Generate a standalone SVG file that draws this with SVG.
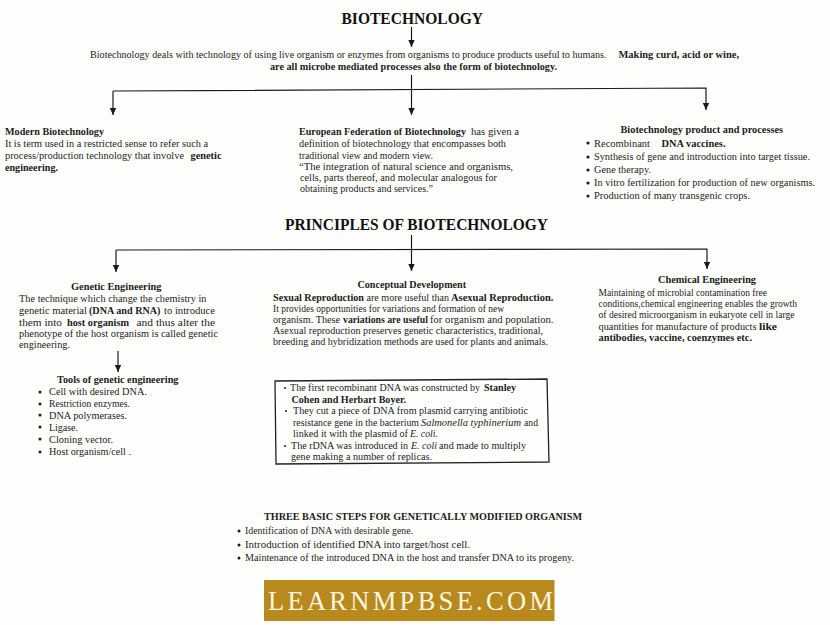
<svg xmlns="http://www.w3.org/2000/svg" width="830" height="625" viewBox="0 0 830 625">
<style>
text{font-family:"Liberation Serif","Times New Roman",serif;font-size:10.5px;fill:#1c1c1c}
.b{font-weight:bold}
.i{font-style:italic}
.h{font-weight:bold;font-size:16px;fill:#111}
.c{fill:none;stroke:#1a1a1a;stroke-width:1.2}
.d{fill:#1c1c1c}
.box{fill:none;stroke:#222;stroke-width:1.3}
.logo{font-size:26.5px;fill:#fbf4e2}
.s{font-size:10px}
</style>
<defs>
<marker id="a" markerUnits="userSpaceOnUse" markerWidth="8" markerHeight="8" refX="7" refY="4" orient="auto"><path d="M0 .8L7 4L0 7.2z" fill="#1a1a1a"/></marker>
</defs>
<rect width="830" height="625" fill="#fefefd"/>
<g id="connectors">
<path class="c" d="M411.5 27V47" marker-end="url(#a)"/>
<path class="c" d="M411.5 75V115" marker-end="url(#a)"/>
<path class="c" d="M113 91V115" marker-end="url(#a)"/>
<path class="c" d="M113 91L706 88V110" marker-end="url(#a)"/>
<path class="c" d="M411.5 235V271" marker-end="url(#a)"/>
<path class="c" d="M116 250V272" marker-end="url(#a)"/>
<path class="c" d="M116 250L707 249V269" marker-end="url(#a)"/>
<path class="c" d="M118 351V372" marker-end="url(#a)"/>
</g>
<g id="title"><text class="h" x="341.5" y="23.5" textLength="141.5" lengthAdjust="spacingAndGlyphs">BIOTECHNOLOGY</text></g>
<g id="intro">
<text x="90" y="58" textLength="516.5" lengthAdjust="spacingAndGlyphs">Biotechnology deals with technology of using live organism or enzymes from organisms to produce products useful to humans.</text>
<text class="b" x="618.5" y="58" textLength="120.5" lengthAdjust="spacingAndGlyphs">Making curd, acid or wine,</text>
<text class="b" x="270" y="70" textLength="287" lengthAdjust="spacingAndGlyphs">are all microbe mediated processes also the form of biotechnology.</text>
</g>
<g id="modern">
<text class="b" x="5" y="135" textLength="99" lengthAdjust="spacingAndGlyphs">Modern Biotechnology</text>
<text x="5" y="147" textLength="203" lengthAdjust="spacingAndGlyphs">It is term used in a restricted sense to refer such a</text>
<text x="5" y="159" textLength="179" lengthAdjust="spacingAndGlyphs">process/production technology that involve</text>
<text class="b" x="190.5" y="159" textLength="31" lengthAdjust="spacingAndGlyphs">genetic</text>
<text class="b" x="5" y="171" textLength="53" lengthAdjust="spacingAndGlyphs">engineering.</text>
</g>
<g id="european">
<text class="b" x="299" y="135" textLength="167" lengthAdjust="spacingAndGlyphs">European Federation of Biotechnology</text>
<text x="471" y="135" textLength="48" lengthAdjust="spacingAndGlyphs">has given a</text>
<text x="299" y="147" textLength="207" lengthAdjust="spacingAndGlyphs">definition of biotechnology that encompasses both</text>
<text x="299" y="158.5" textLength="134" lengthAdjust="spacingAndGlyphs">traditional view and modern view.</text>
<text x="299" y="170" textLength="214" lengthAdjust="spacingAndGlyphs">“The integration of natural science and organisms,</text>
<text x="300" y="181" textLength="197" lengthAdjust="spacingAndGlyphs">cells, parts thereof, and molecular analogous for</text>
<text x="300" y="192" textLength="133" lengthAdjust="spacingAndGlyphs">obtaining products and services.”</text>
</g>
<g id="products">
<text class="b" x="620.5" y="133" textLength="162.5" lengthAdjust="spacingAndGlyphs">Biotechnology product and processes</text>
<circle class="d" cx="588" cy="143" r="1.6"/><circle class="d" cx="588" cy="157" r="1.6"/><circle class="d" cx="588" cy="170" r="1.6"/><circle class="d" cx="588" cy="183" r="1.6"/><circle class="d" cx="588" cy="196" r="1.6"/>
<text x="594" y="147" textLength="56" lengthAdjust="spacingAndGlyphs">Recombinant</text>
<text class="b" x="661.5" y="147" textLength="64" lengthAdjust="spacingAndGlyphs">DNA vaccines.</text>
<text x="594" y="160" textLength="216" lengthAdjust="spacingAndGlyphs">Synthesis of gene and introduction into target tissue.</text>
<text x="594" y="173" textLength="57" lengthAdjust="spacingAndGlyphs">Gene therapy.</text>
<text x="594" y="186" textLength="221" lengthAdjust="spacingAndGlyphs">In vitro fertilization for production of new organisms.</text>
<text x="594" y="199" textLength="156" lengthAdjust="spacingAndGlyphs">Production of many transgenic  crops.</text>
</g>
<g id="principles"><text class="h" x="285" y="229.5" textLength="263" lengthAdjust="spacingAndGlyphs">PRINCIPLES OF BIOTECHNOLOGY</text></g>
<g id="genetic">
<text class="b" x="71" y="290" textLength="90.5" lengthAdjust="spacingAndGlyphs">Genetic Engineering</text>
<text x="19" y="302" textLength="187.5" lengthAdjust="spacingAndGlyphs">The technique which change the chemistry in</text>
<text x="19" y="314" textLength="68" lengthAdjust="spacingAndGlyphs">genetic material</text>
<text class="b" x="89" y="314" textLength="71.5" lengthAdjust="spacingAndGlyphs">(DNA and RNA)</text>
<text x="164" y="314" textLength="51" lengthAdjust="spacingAndGlyphs">to introduce</text>
<text x="19" y="325.5" textLength="43" lengthAdjust="spacingAndGlyphs">them into</text>
<text class="b" x="67" y="325.5" textLength="62" lengthAdjust="spacingAndGlyphs">host organism</text>
<text x="136.5" y="325.5" textLength="78.5" lengthAdjust="spacingAndGlyphs">and thus alter the</text>
<text x="19" y="336.5" textLength="199" lengthAdjust="spacingAndGlyphs">phenotype of the host organism is called genetic</text>
<text x="19" y="347.5" textLength="51" lengthAdjust="spacingAndGlyphs">engineering.</text>
</g>
<g id="tools">
<text class="b" x="57" y="383" textLength="121.5" lengthAdjust="spacingAndGlyphs">Tools of genetic engineering</text>
<circle class="d" cx="40" cy="392" r="1.5"/><circle class="d" cx="40" cy="404" r="1.5"/><circle class="d" cx="40" cy="415" r="1.5"/><circle class="d" cx="40" cy="427" r="1.5"/><circle class="d" cx="40" cy="439" r="1.5"/><circle class="d" cx="40" cy="452" r="1.5"/>
<text x="49" y="395" textLength="98" lengthAdjust="spacingAndGlyphs">Cell with desired DNA.</text>
<text x="49" y="407" textLength="81" lengthAdjust="spacingAndGlyphs">Restriction enzymes.</text>
<text x="49" y="418.5" textLength="78" lengthAdjust="spacingAndGlyphs">DNA polymerases.</text>
<text x="49" y="430.5" textLength="29" lengthAdjust="spacingAndGlyphs">Ligase.</text>
<text x="49" y="442.5" textLength="64" lengthAdjust="spacingAndGlyphs">Cloning vector.</text>
<text x="49" y="455" textLength="82" lengthAdjust="spacingAndGlyphs">Host organism/cell .</text>
</g>
<g id="conceptual">
<text class="b" x="357.5" y="288" textLength="108.5" lengthAdjust="spacingAndGlyphs">Conceptual Development</text>
<text class="b" x="273" y="301" textLength="91" lengthAdjust="spacingAndGlyphs">Sexual Reproduction</text>
<text x="366.5" y="301" textLength="82.5" lengthAdjust="spacingAndGlyphs">are more useful than</text>
<text class="b" x="451" y="301" textLength="102.5" lengthAdjust="spacingAndGlyphs">Asexual Reproduction.</text>
<text x="273" y="312" textLength="231" lengthAdjust="spacingAndGlyphs">It provides opportunities for variations and formation of new</text>
<text x="273" y="323" textLength="67" lengthAdjust="spacingAndGlyphs">organism. These</text>
<text class="b" x="343" y="323" textLength="85" lengthAdjust="spacingAndGlyphs">variations are useful</text>
<text x="430" y="323" textLength="123.5" lengthAdjust="spacingAndGlyphs">for organism and population.</text>
<text x="273" y="334" textLength="270" lengthAdjust="spacingAndGlyphs">Asexual reproduction preserves genetic characteristics, traditional,</text>
<text x="273" y="345" textLength="275" lengthAdjust="spacingAndGlyphs">breeding and hybridization methods are used for plants and animals.</text>
</g>
<g id="chemical">
<text class="b" x="658" y="283" textLength="98" lengthAdjust="spacingAndGlyphs">Chemical Engineering</text>
<text x="598.5" y="296" textLength="168.5" lengthAdjust="spacingAndGlyphs">Maintaining of microbial contamination free</text>
<text x="598.5" y="307" textLength="198.5" lengthAdjust="spacingAndGlyphs">conditions,chemical engineering enables the growth</text>
<text x="598.5" y="318" textLength="196" lengthAdjust="spacingAndGlyphs">of desired microorganism in eukaryote cell in large</text>
<text x="598.5" y="329.5" textLength="158" lengthAdjust="spacingAndGlyphs">quantities for manufacture of products</text>
<text class="b" x="759" y="329.5" textLength="18" lengthAdjust="spacingAndGlyphs">like</text>
<text class="b" x="598.5" y="341" textLength="153.5" lengthAdjust="spacingAndGlyphs">antibodies, vaccine, coenzymes etc.</text>
</g>
<g id="recombinant">
<path class="box" d="M275 381L547 379L549 462L276 464Z"/>
<circle class="d" cx="285" cy="388" r="1"/><circle class="d" cx="286" cy="411" r="1"/><circle class="d" cx="285" cy="446" r="1"/>
<text class="s" x="290" y="391" textLength="190" lengthAdjust="spacingAndGlyphs">The first recombinant DNA was constructed by</text>
<text class="b" x="484" y="391" textLength="32" lengthAdjust="spacingAndGlyphs">Stanley</text>
<text class="b" x="291.5" y="403" textLength="114.5" lengthAdjust="spacingAndGlyphs">Cohen and Herbart Boyer.</text>
<text x="293" y="414" textLength="235" lengthAdjust="spacingAndGlyphs">They cut a piece of DNA from plasmid carrying antibiotic</text>
<text x="293" y="425.5" textLength="126" lengthAdjust="spacingAndGlyphs">resistance gene in the bacterium</text>
<text class="i" x="421" y="425.5" textLength="100" lengthAdjust="spacingAndGlyphs">Salmonella typhinerium</text>
<text x="524" y="425.5" textLength="14" lengthAdjust="spacingAndGlyphs">and</text>
<text x="293" y="436.5" textLength="115" lengthAdjust="spacingAndGlyphs">linked it with the plasmid of</text>
<text class="i" x="410" y="436.5" textLength="28" lengthAdjust="spacingAndGlyphs">E. coli.</text>
<text x="291" y="449" textLength="117" lengthAdjust="spacingAndGlyphs">The rDNA was introduced in</text>
<text class="i" x="411" y="449" textLength="26" lengthAdjust="spacingAndGlyphs">E. coli</text>
<text x="439" y="449" textLength="87" lengthAdjust="spacingAndGlyphs">and made to multiply</text>
<text x="291" y="459.5" textLength="141" lengthAdjust="spacingAndGlyphs">gene making a number of replicas.</text>
</g>
<g id="steps">
<text class="b" x="264" y="520" textLength="318" lengthAdjust="spacingAndGlyphs">THREE BASIC STEPS FOR GENETICALLY MODIFIED ORGANISM</text>
<circle class="d" cx="239" cy="531" r="1.5"/><circle class="d" cx="239" cy="545" r="1.5"/><circle class="d" cx="239" cy="558" r="1.5"/>
<text x="245" y="533.5" textLength="168" lengthAdjust="spacingAndGlyphs">Identification of DNA with desirable gene.</text>
<text x="245" y="547.5" textLength="225" lengthAdjust="spacingAndGlyphs">Introduction of identified DNA into target/host cell.</text>
<text x="245" y="560.5" textLength="329" lengthAdjust="spacingAndGlyphs">Maintenance of the introduced DNA in the host and transfer DNA to its progeny.</text>
</g>
<g id="logo">
<rect x="264" y="580" width="290.5" height="41" fill="#b88a1e"/>
<text class="logo" x="268" y="609.5" textLength="285" lengthAdjust="spacing">LEARNMPBSE.COM</text>
</g>
</svg>
